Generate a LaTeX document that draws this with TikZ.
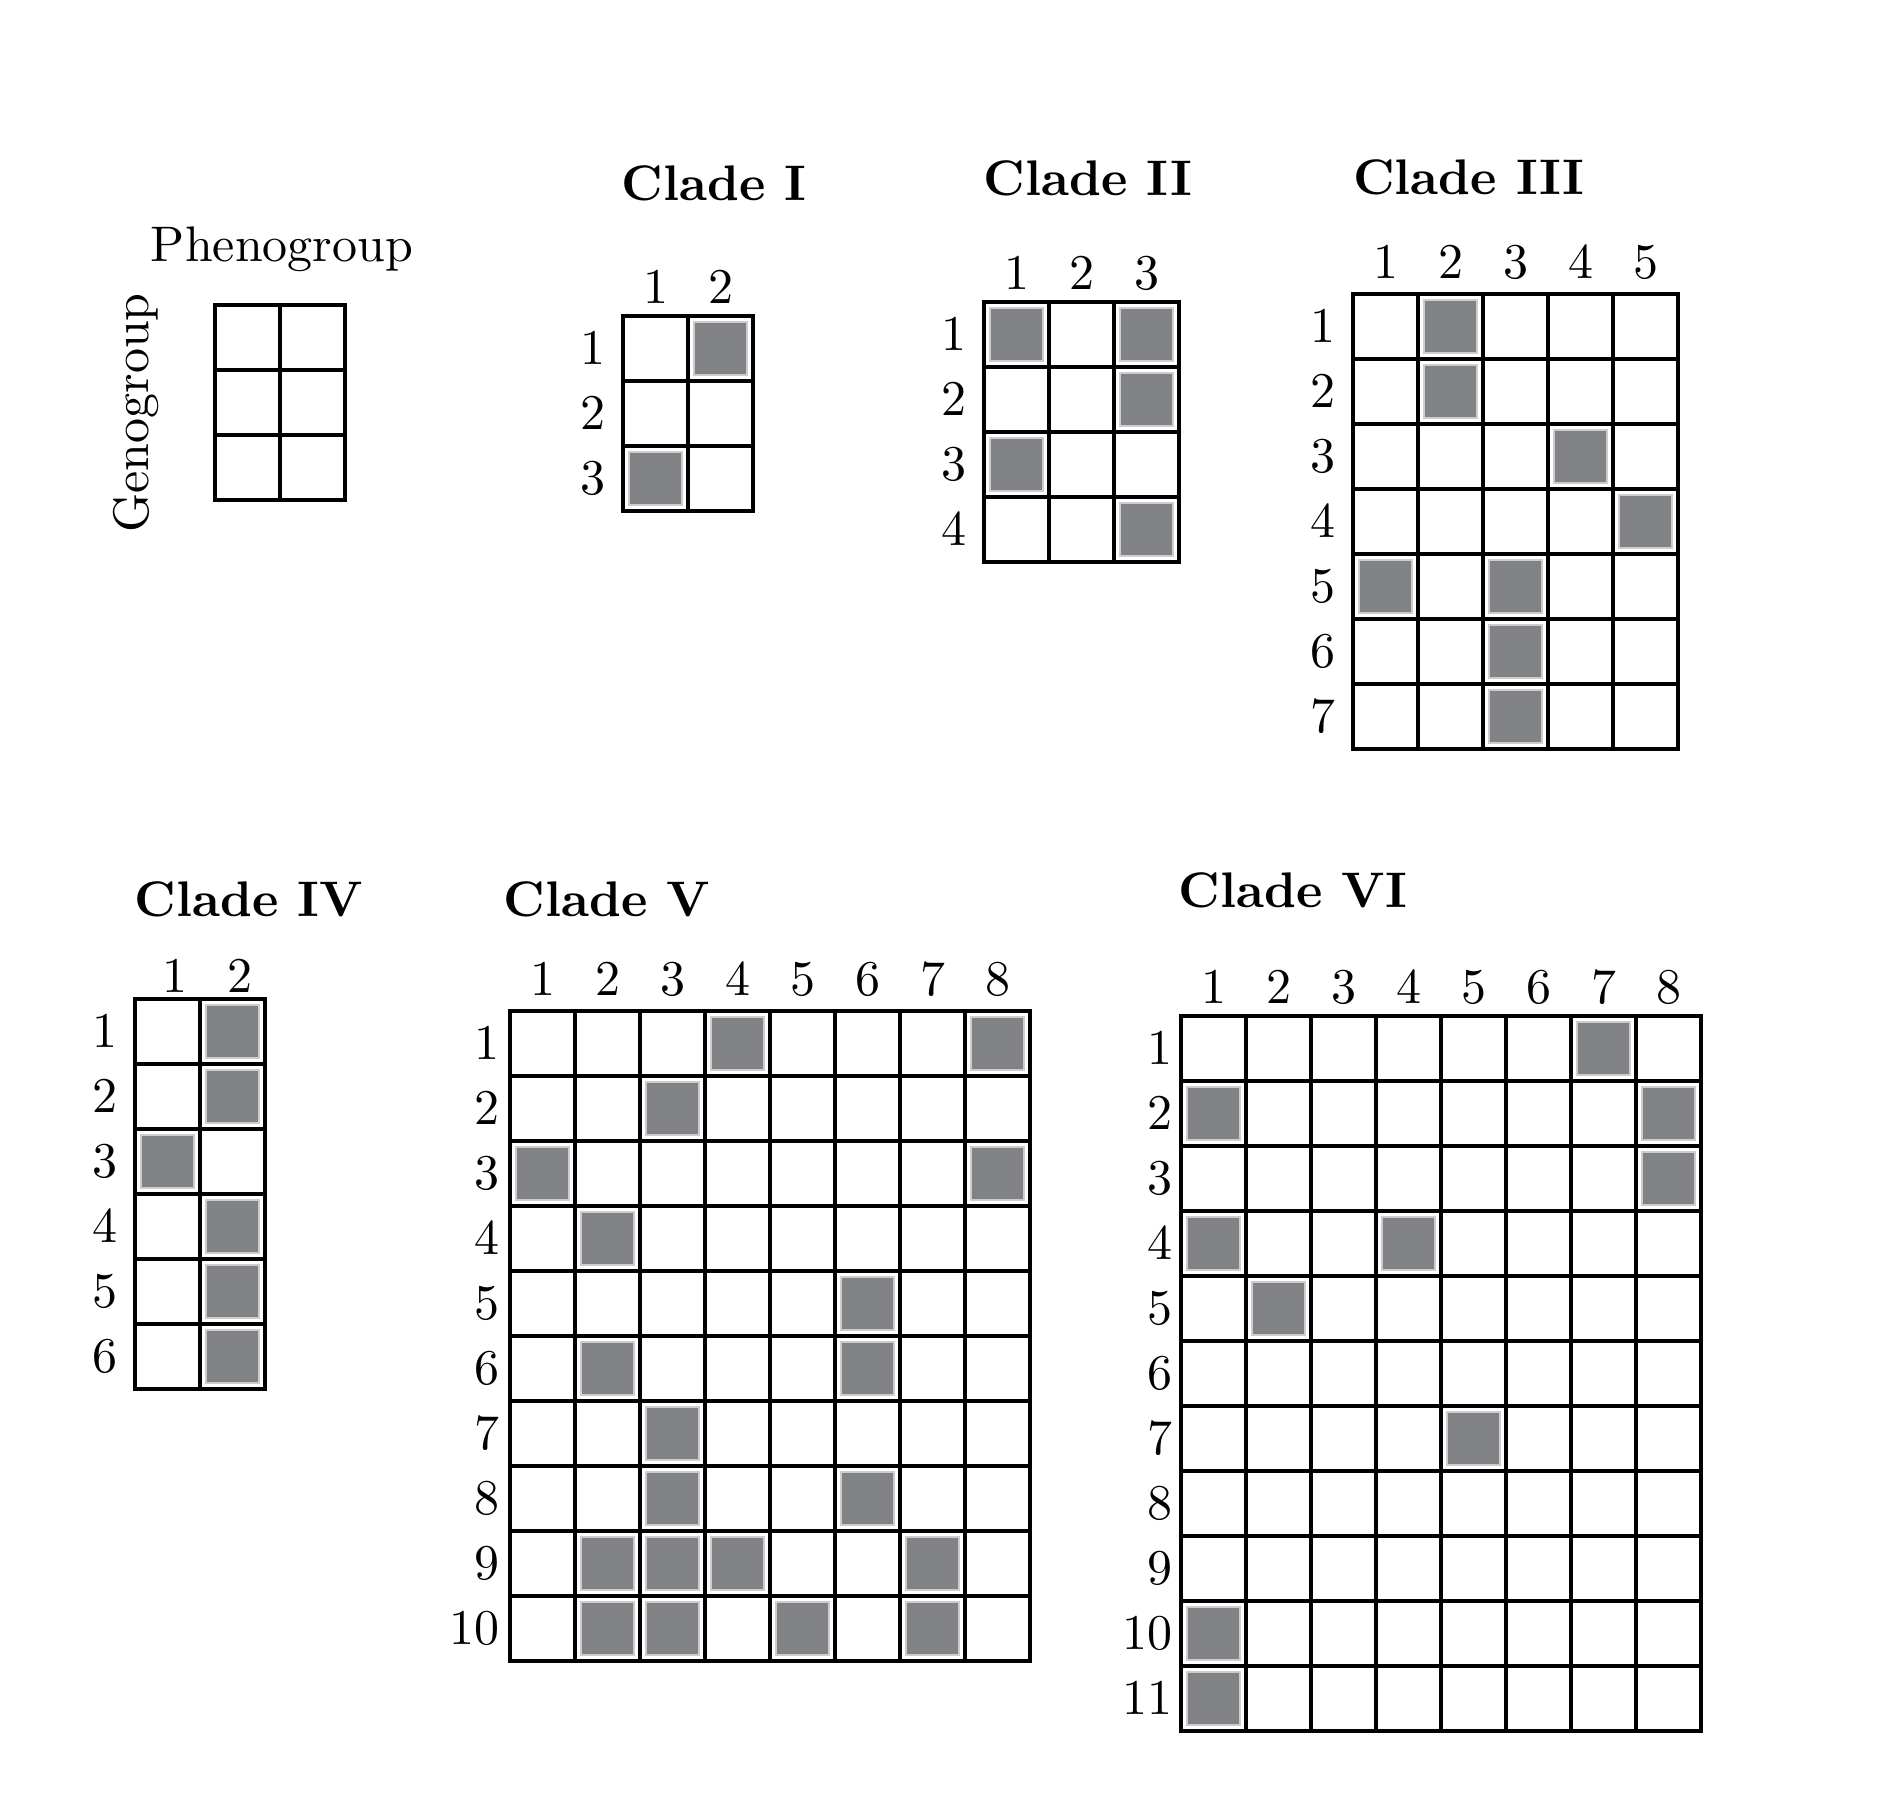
\documentclass[tikz,border=0pt]{standalone}
\usepackage{fontspec}
\setmainfont{lmroman10-regular.otf}[BoldFont=lmroman10-bold.otf]
\definecolor{cellgray}{RGB}{128,130,134}
\definecolor{celledge}{RGB}{205,205,205}
\tikzset{
  gridline/.style={line width=3.3pt, line cap=rect, draw=black},
  filledcell/.style={fill=cellgray, draw=celledge, line width=1.6pt},
  lbl/.style={font=\fontsize{50}{60}\selectfont, inner sep=0pt},
  ttl/.style={font=\fontsize{50}{60}\selectfont\bfseries, inner sep=0pt},
}
% #1 name, #2 left, #3 top, #4 cols, #5 rows, #6 filled r/c list, #7 row label gap, #8 col label options
\newcommand\cladegrid[8]{%
  \begin{scope}[shift={(#2,#3)}]
    \foreach \r/\c in {#6}
      \draw[filledcell] ({(\c-1)*65+6},{(\r-1)*65+6}) rectangle ++(53,53);
    \foreach \i in {1,...,#4}
      \draw[gridline] ({\i*65-65},0) -- ({\i*65-65},{#5*65});
    \draw[gridline] ({#4*65},0) -- ({#4*65},{#5*65});
    \foreach \j in {1,...,#5}
      \draw[gridline] (0,{\j*65-65}) -- ({#4*65},{\j*65-65});
    \draw[gridline] (0,{#5*65}) -- ({#4*65},{#5*65});
    \foreach \i in {1,...,#4}
      \node[lbl, anchor=base, #8] (#1-c\i) at ({(\i-0.5)*65},-13) {\i};
    \foreach \j in {1,...,#5}
      \node[lbl, anchor=base east] (#1-r\j) at (-#7,{(\j-0.5)*65+16}) {\j};
  \end{scope}%
}
\begin{document}
\begin{tikzpicture}[x=1pt,y=-1pt]
\useasboundingbox[fill=white] (0,0) rectangle (1904,1804);

% Legend grid
\begin{scope}[shift={(215,305)}]
  \foreach \i in {0,1,2}
    \draw[gridline] ({\i*65},0) -- ({\i*65},195);
  \foreach \j in {0,1,2,3}
    \draw[gridline] (0,{\j*65}) -- (130,{\j*65});
\end{scope}
\node[lbl, anchor=base] (pheno) at (282,261) {Phenogroup};
\node[lbl, rotate=90] (geno) at (136,413) {Genogroup};

% Titles
\node[ttl, anchor=base] (t1) at (714,200) {Clade I};
\node[ttl, anchor=base] (t2) at (1088,195) {Clade II};
\node[ttl, anchor=base] (t3) at (1469,194) {Clade III};
\node[ttl, anchor=base] (t4) at (249,916) {Clade IV};
\node[ttl, anchor=base] (t5) at (607,916) {Clade V};
\node[ttl, anchor=base] (t6) at (1293,907) {Clade VI};

\cladegrid{cI}{623}{316}{2}{3}{1/2,3/1}{17}{}
\cladegrid{cII}{984}{302}{3}{4}{1/1,1/3,2/3,3/1,4/3}{17}{}
\cladegrid{cIII}{1353}{294}{5}{7}{1/2,2/2,3/4,4/5,5/1,5/3,6/3,7/3}{17}{yshift=3pt}
\cladegrid{cIV}{135}{999}{2}{6}{1/2,2/2,3/1,4/2,5/2,6/2}{17}{xshift=7pt,yshift=-6pt}
\cladegrid{cV}{510}{1011}{8}{10}{1/4,1/8,2/3,3/1,3/8,4/2,5/6,6/2,6/6,7/3,8/3,8/6,9/2,9/3,9/4,9/7,10/2,10/3,10/5,10/7}{10}{yshift=3pt}
\cladegrid{cVI}{1181}{1016}{8}{11}{1/7,2/1,2/8,3/8,4/1,4/4,5/2,7/5,10/1,11/1}{8}{}
\end{tikzpicture}
\end{document}
